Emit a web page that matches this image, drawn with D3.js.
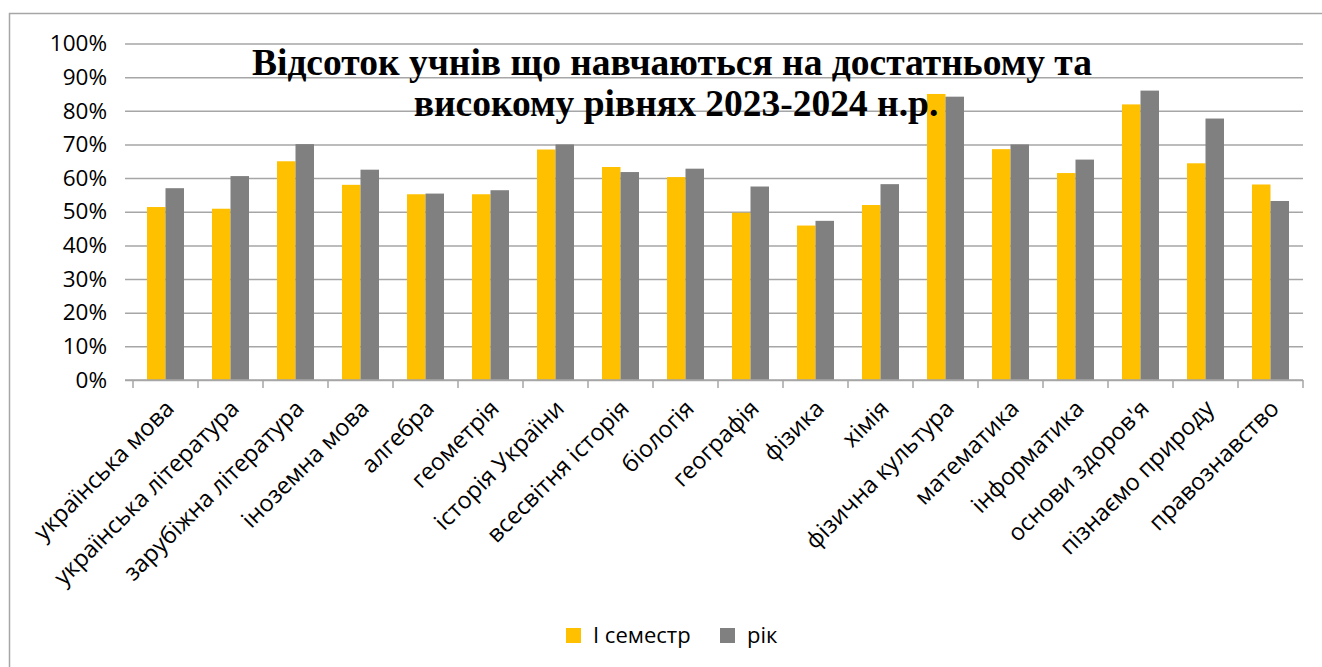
<!DOCTYPE html>
<html>
<head>
<meta charset="utf-8">
<script src="https://cdn.jsdelivr.net/npm/d3@7"></script>
<style>
  body { margin: 0; background: #fff; }
  svg { display: block; }
</style>
</head>
<body>
<div id="container"></div>
<script>
/* DATA */
const subjects = ["українська мова", "українська література", "зарубіжна література", "іноземна мова",
  "алгебра", "геометрія", "історія України", "всесвітня історія", "біологія", "географія",
  "фізика", "хімія", "фізична культура", "математика", "інформатика", "основи здоров'я",
  "пізнаємо природу", "правознавство"]
const semester = [0.514, 0.509, 0.650, 0.580, 0.552, 0.552, 0.685, 0.633, 0.603, 0.497,
  0.459, 0.520, 0.850, 0.686, 0.615, 0.819, 0.644, 0.581]
const year = [0.570, 0.606, 0.701, 0.625, 0.554, 0.564, 0.700, 0.618, 0.628, 0.575,
  0.473, 0.582, 0.842, 0.700, 0.655, 0.860, 0.777, 0.532]
const seriesNames = ["І семестр", "рік"]
const seriesColors = ["#FFC000", "#808080"]
const yTicks = [0, 0.1, 0.2, 0.3, 0.4, 0.5, 0.6, 0.7, 0.8, 0.9, 1]
const titleLines = ["Відсоток учнів що навчаються на достатньому та", "високому рівнях 2023-2024 н.р."]

/* CONSTANTS */
const width = 1322, height = 667
const plot = { left: 133, right: 1303, top: 43.5, bottom: 380 }
const gridColor = "#a6a6a6"
const font = "'Open Sans', sans-serif"

const data = subjects.map((s, i) => ({ subject: s, values: [semester[i], year[i]] }))

/* SCALES */
const xScale = d3.scaleBand()
  .domain(subjects)
  .range([plot.left, plot.right])

const xInner = d3.scaleBand()
  .domain(seriesNames)
  .range([(xScale.bandwidth() - 37) / 2, (xScale.bandwidth() + 37) / 2])

const yScale = d3.scaleLinear()
  .domain([0, 1])
  .range([plot.bottom, plot.top])

/* SVG */
const svg = d3.select("#container")
  .append("svg")
  .attr("width", width)
  .attr("height", height)

// chart border
svg.append("rect")
  .attr("x", 9.5).attr("y", 13.5)
  .attr("width", 1340).attr("height", 700)
  .attr("fill", "none")
  .attr("stroke", gridColor)
  .attr("stroke-width", 1.5)

// gridlines + y labels
const yAxis = d3.axisLeft(yScale)
  .tickValues(yTicks)
  .tickFormat(d3.format(".0%"))
  .tickSize(-(plot.right - plot.left + 8))
  .tickPadding(18)

svg.append("g")
  .attr("transform", `translate(${plot.left - 8},0)`)
  .call(yAxis)
  .call(g => g.select(".domain").remove())
  .call(g => g.selectAll(".tick line")
    .attr("stroke", gridColor).attr("stroke-width", 1.5))
  .call(g => g.selectAll(".tick text")
    .attr("font-family", font).attr("font-size", 22.5).attr("fill", "#000"))

// bars
const groups = svg.selectAll("g.group")
  .data(data)
  .join("g")
  .attr("class", "group")
  .attr("transform", d => `translate(${xScale(d.subject)},0)`)

groups.selectAll("rect")
  .data(d => d.values.map((v, i) => ({ name: seriesNames[i], value: v, color: seriesColors[i] })))
  .join("rect")
  .attr("x", d => xInner(d.name))
  .attr("width", xInner.bandwidth())
  .attr("y", d => yScale(d.value))
  .attr("height", d => yScale(0) - yScale(d.value))
  .attr("fill", d => d.color)

// x axis line with ticks at category boundaries
const xAxisG = svg.append("g")
svg.append("line")
  .attr("x1", plot.left - 8).attr("x2", plot.right)
  .attr("y1", plot.bottom).attr("y2", plot.bottom)
  .attr("stroke", gridColor).attr("stroke-width", 1.5)

xAxisG.selectAll("line")
  .data(subjects.concat([null]))
  .join("line")
  .attr("x1", (d, i) => plot.left + i * xScale.step())
  .attr("x2", (d, i) => plot.left + i * xScale.step())
  .attr("y1", plot.bottom).attr("y2", plot.bottom + 8)
  .attr("stroke", gridColor).attr("stroke-width", 1.5)

// rotated category labels
svg.append("g")
  .selectAll("text")
  .data(subjects)
  .join("text")
  .attr("transform", d => `translate(${xScale(d) + xScale.bandwidth() / 2 + 10},${plot.bottom + 30}) rotate(-45)`)
  .attr("text-anchor", "end")
  .attr("font-family", font)
  .attr("font-size", 23.5)
  .attr("fill", "#000")
  .text(d => d)

// title
svg.append("text")
  .attr("x", 672)
  .attr("font-family", "'Liberation Serif', 'Times New Roman', serif")
  .attr("font-weight", "bold")
  .attr("font-size", 37.5)
  .attr("text-anchor", "middle")
  .selectAll("tspan")
  .data(titleLines)
  .join("tspan")
  .attr("x", (d, i) => 672 + i * 4)
  .attr("y", (d, i) => 75 + i * 41)
  .text(d => d)

// legend
const legend = svg.append("g")
  .selectAll("g")
  .data(seriesNames)
  .join("g")
  .attr("transform", (d, i) => `translate(${[566, 720][i]},628)`)

legend.append("rect")
  .attr("width", 15).attr("height", 15)
  .attr("fill", (d, i) => seriesColors[i])

legend.append("text")
  .attr("x", 27).attr("y", 15)
  .attr("font-family", font)
  .attr("font-size", 22)
  .text(d => d)
</script>
</body>
</html>
